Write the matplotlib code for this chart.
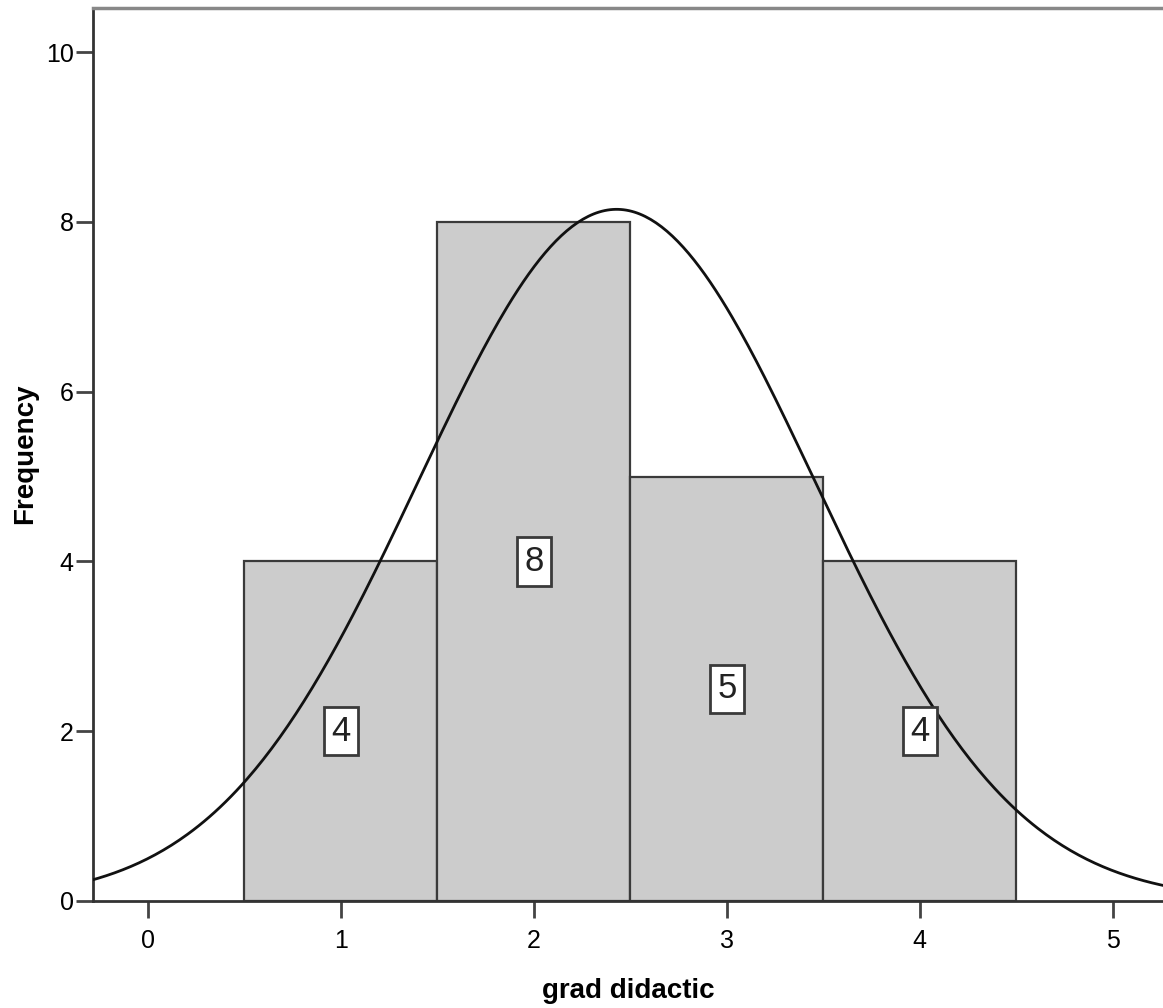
import numpy as np
import matplotlib
matplotlib.use("Agg")
import matplotlib.pyplot as plt
from matplotlib import font_manager

# histogram data (SPSS style, bin width 1)
bins = [1, 2, 3, 4]
counts = [4, 8, 5, 4]
xticks = [0, 1, 2, 3, 4, 5]
yticks = [0, 2, 4, 6, 8, 10]

# normal curve fitted to the same data, as SPSS does
vals = np.repeat(bins, counts)
mean = vals.mean()
sd = vals.std(ddof=1)
n = len(vals)

names = {f.name for f in font_manager.fontManager.ttflist}
narrow = "Liberation Sans Narrow" if "Liberation Sans Narrow" in names else "Liberation Sans"

W, H = 1163, 1008
fig = plt.figure(figsize=(W / 100, H / 100), dpi=100)
ax = fig.add_axes([93 / W, 107 / H, 1 - 93 / W, (901 - 8) / H])

ax.bar(bins, counts, width=1.0, color="#cccccc", edgecolor="#3a3a3a", linewidth=1.6, zorder=2)

xs = np.linspace(-0.3, 5.3, 400)
ys = n * 1.0 / (sd * np.sqrt(2 * np.pi)) * np.exp(-0.5 * ((xs - mean) / sd) ** 2)
ax.plot(xs, ys, color="#111111", linewidth=2.0, zorder=3)

for b, c in zip(bins, counts):
    ax.text(b, c / 2, str(c), ha="center", va="center", fontsize=25, family=narrow,
            color="#222222", zorder=4,
            bbox=dict(boxstyle="square,pad=0.22", facecolor="white", edgecolor="#3a3a3a", linewidth=2))

ax.set_xlim(-0.285, 5.26)
ax.set_ylim(0, 10.52)
ax.set_xticks(xticks)
ax.set_yticks(yticks)
ax.tick_params(direction="out", length=12, width=2, color="#444444", labelsize=18, pad=2)
for lab in ax.get_xticklabels() + ax.get_yticklabels():
    lab.set_family(narrow)
ax.tick_params(axis="x", pad=8)

ax.spines["right"].set_visible(False)
ax.spines["top"].set_color("#888888")
ax.spines["top"].set_linewidth(2.5)
for s in ("left", "bottom"):
    ax.spines[s].set_color("#333333")
    ax.spines[s].set_linewidth(2)

fig.text(25 / W, 1 - 454 / H, "Frequency", rotation=90, ha="center", va="center",
         fontsize=20, fontweight="bold", family="Liberation Sans")
fig.text(628 / W, 1 - 991 / H, "grad didactic", ha="center", va="center",
         fontsize=20, fontweight="bold", family=narrow)

fig.savefig("out.png", dpi=100)
